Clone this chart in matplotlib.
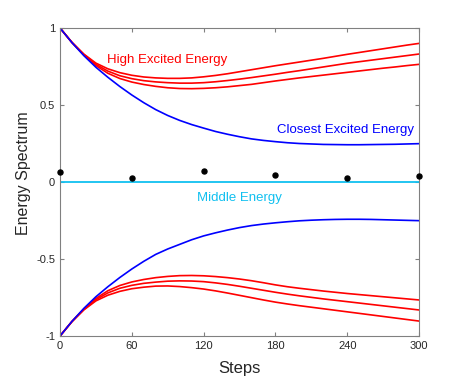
import numpy as np
import matplotlib.pyplot as plt

plt.rcParams['font.family'] = ['Liberation Sans', 'DejaVu Sans']

# sampled every 10 steps
steps = list(range(0, 301, 10))

# closest excited energy (upper / lower)
blue_up = [1.0, 0.905, 0.82, 0.745, 0.68, 0.62, 0.565, 0.515, 0.47, 0.432, 0.40,
           0.373, 0.35, 0.328, 0.31, 0.294, 0.28, 0.27, 0.262, 0.255, 0.25,
           0.247, 0.244, 0.243, 0.242, 0.242, 0.243, 0.244, 0.245, 0.247, 0.249]
blue_dn = [-1.0, -0.905, -0.82, -0.745, -0.68, -0.62, -0.565, -0.515, -0.47, -0.435, -0.405,
           -0.375, -0.35, -0.33, -0.312, -0.296, -0.283, -0.273, -0.265, -0.258, -0.252,
           -0.248, -0.245, -0.243, -0.242, -0.242, -0.243, -0.245, -0.247, -0.249, -0.251]

# high excited energies (upper)
red_up1 = [1.0, 0.907, 0.83, 0.772, 0.735, 0.71, 0.693, 0.682, 0.676, 0.673, 0.673,
           0.676, 0.683, 0.692, 0.703, 0.716, 0.729, 0.742, 0.755, 0.767, 0.779,
           0.791, 0.803, 0.816, 0.829, 0.841, 0.853, 0.865, 0.877, 0.889, 0.90]
red_up2 = [1.0, 0.906, 0.827, 0.764, 0.72, 0.69, 0.671, 0.658, 0.65, 0.645, 0.642,
           0.642, 0.645, 0.651, 0.659, 0.668, 0.678, 0.689, 0.70, 0.712, 0.723,
           0.735, 0.747, 0.759, 0.771, 0.781, 0.791, 0.801, 0.811, 0.821, 0.831]
red_up3 = [1.0, 0.905, 0.824, 0.756, 0.706, 0.672, 0.649, 0.633, 0.621, 0.612, 0.607,
           0.606, 0.608, 0.612, 0.618, 0.626, 0.634, 0.645, 0.656, 0.666, 0.676,
           0.685, 0.694, 0.703, 0.712, 0.721, 0.730, 0.739, 0.747, 0.756, 0.764]

# high excited energies (lower)
red_dn1 = [-1.0, -0.905, -0.824, -0.756, -0.706, -0.672, -0.649, -0.633, -0.621, -0.613, -0.608,
           -0.607, -0.609, -0.614, -0.621, -0.63, -0.641, -0.654, -0.668, -0.68, -0.69,
           -0.699, -0.708, -0.716, -0.724, -0.731, -0.738, -0.745, -0.752, -0.759, -0.766]
red_dn2 = [-1.0, -0.906, -0.827, -0.764, -0.72, -0.69, -0.671, -0.658, -0.65, -0.644, -0.642,
           -0.643, -0.647, -0.655, -0.665, -0.677, -0.69, -0.703, -0.716, -0.728, -0.739,
           -0.749, -0.759, -0.768, -0.777, -0.786, -0.795, -0.804, -0.813, -0.822, -0.831]
red_dn3 = [-1.0, -0.907, -0.83, -0.772, -0.735, -0.71, -0.693, -0.683, -0.676, -0.675, -0.679,
           -0.686, -0.695, -0.707, -0.721, -0.736, -0.751, -0.766, -0.78, -0.792, -0.803,
           -0.813, -0.823, -0.833, -0.843, -0.853, -0.863, -0.873, -0.883, -0.893, -0.903]

# middle energy and the black dots
mid_steps = [0, 300]
mid_vals = [0.0, 0.0]
dot_steps = [0, 60, 120, 180, 240, 300]
dot_vals = [0.063, 0.028, 0.069, 0.047, 0.028, 0.037]

xticks = [0, 60, 120, 180, 240, 300]
yticks = [-1, -0.5, 0, 0.5, 1]
yticklabels = ['-1', '-0.5', '0', '0.5', '1']

cyan = '#10c0f0'

fig = plt.figure(figsize=(4.63, 3.82), dpi=100)
ax = fig.add_axes([0.1296, 0.1204, 0.7754, 0.8063])

for r in (red_up1, red_up2, red_up3, red_dn1, red_dn2, red_dn3):
    ax.plot(steps, r, color='red', lw=1.2)
ax.plot(steps, blue_up, color='blue', lw=1.2)
ax.plot(steps, blue_dn, color='blue', lw=1.2)
ax.plot(mid_steps, mid_vals, color=cyan, lw=1.3)
ax.plot(dot_steps, dot_vals, 'o', color='black', ms=3.6, clip_on=False, zorder=5)

ax.text(39, 0.79, 'High Excited Energy', color='red', fontsize=9.5, va='center', ha='left')
ax.text(296, 0.338, 'Closest Excited Energy', color='blue', fontsize=9.5, va='center', ha='right')
ax.text(150, -0.106, 'Middle Energy', color=cyan, fontsize=9.5, va='center', ha='center')

ax.set_xlim(0, 300)
ax.set_ylim(-1, 1)
ax.set_xticks(xticks)
ax.set_yticks(yticks)
ax.set_yticklabels(yticklabels)
ax.tick_params(direction='in', top=True, right=True, length=3, width=0.8,
               color='#808080', labelsize=8, labelcolor='#262626')
for s in ax.spines.values():
    s.set_color('#808080')
    s.set_linewidth(0.8)

ax.set_xlabel('Steps', fontsize=12, color='#262626', va='top')
ax.xaxis.set_label_coords(0.5, -0.08)
ax.set_ylabel('Energy Spectrum', fontsize=11.5, color='#262626')
ax.yaxis.set_label_coords(-0.08, 0.53)

fig.savefig('out.png', dpi=100)
